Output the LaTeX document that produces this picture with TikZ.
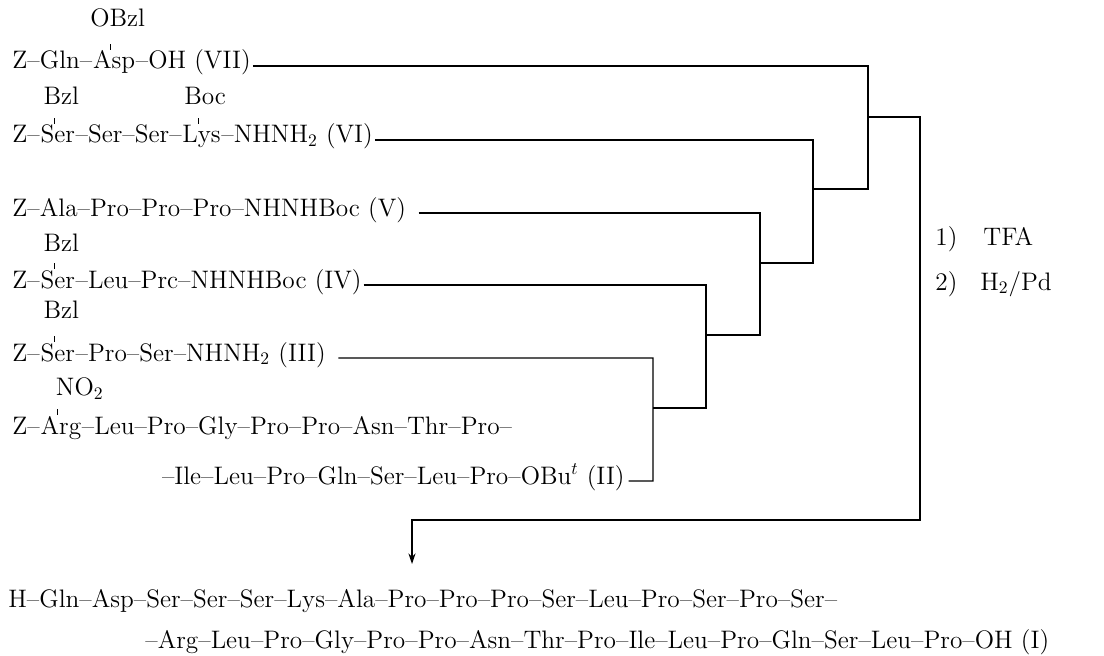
\documentclass[tikz,border=0pt]{standalone}
\usetikzlibrary{arrows.meta,positioning,calc}

\begin{document}
\begin{tikzpicture}[x=0.02cm,y=-0.02cm,
  txt/.style={inner sep=0pt,anchor=base west,font=\fontsize{14.4}{17}\selectfont},
  prot/.style={inner sep=0pt,anchor=base,font=\fontsize{14.4}{17}\selectfont},
  bond/.style={line width=0.7pt},
  tick/.style={line width=0.6pt}]
  \useasboundingbox (0,0) rectangle (1104,655);
  % starting peptides
  \node[txt] (z7) at (12,69) {Z--Gln--};
  \node[txt] (asp7) at (z7.base east) {Asp};
  \node[txt] (vii) at (asp7.base east) {--OH (VII)};
  \node[prot] (obzl7) at ([xshift=2pt,yshift=24pt]asp7.base) {OBzl};
  \draw[tick] ([xshift=-2pt,yshift=11pt]asp7.base) -- ([xshift=-2pt,yshift=14.5pt]asp7.base);

  \node[txt] (z6) at (12,143) {Z--};
  \node[txt] (ser6) at (z6.base east) {Ser};
  \node[txt] (m6) at (ser6.base east) {--Ser--Ser--};
  \node[txt] (lys6) at (m6.base east) {Lys};
  \node[txt] (vi) at (lys6.base east) {--NHNH$_2$ (VI)};
  \node[prot] (bzl6) at ([xshift=2pt,yshift=22pt]ser6.base) {Bzl};
  \node[prot] (boc6) at ([xshift=2pt,yshift=22pt]lys6.base) {Boc};
  \draw[tick] ([xshift=-2pt,yshift=11pt]ser6.base) -- ([xshift=-2pt,yshift=14.5pt]ser6.base);
  \draw[tick] ([xshift=-2pt,yshift=11pt]lys6.base) -- ([xshift=-2pt,yshift=14.5pt]lys6.base);

  \node[txt] (v) at (12,216) {Z--Ala--Pro--Pro--Pro--NHNHBoc (V)};

  \node[txt] (z4) at (12,288) {Z--};
  \node[txt] (ser4) at (z4.base east) {Ser};
  \node[txt] (iv) at (ser4.base east) {--Leu--Prc--NHNHBoc (IV)};
  \node[prot] (bzl4) at ([xshift=2pt,yshift=21pt]ser4.base) {Bzl};
  \draw[tick] ([xshift=-2pt,yshift=11pt]ser4.base) -- ([xshift=-2pt,yshift=14.5pt]ser4.base);

  \node[txt] (z3) at (12,361) {Z--};
  \node[txt] (ser3) at (z3.base east) {Ser};
  \node[txt] (iii) at (ser3.base east) {--Pro--Ser--NHNH$_2$ (III)};
  \node[prot] (bzl3) at ([xshift=2pt,yshift=24pt]ser3.base) {Bzl};
  \draw[tick] ([xshift=-2pt,yshift=11pt]ser3.base) -- ([xshift=-2pt,yshift=14.5pt]ser3.base);

  \node[txt] (z2) at (12,434) {Z--};
  \node[txt] (arg2) at (z2.base east) {Arg};
  \node[txt] (ii) at (arg2.base east) {--Leu--Pro--Gly--Pro--Pro--Asn--Thr--Pro--};
  \node[txt] (no2) at ([xshift=-3pt,yshift=22pt]arg2.base) {NO$_2$};
  \draw[tick] ([xshift=-2pt,yshift=11pt]arg2.base) -- ([xshift=-2pt,yshift=14.5pt]arg2.base);
  \node[txt,anchor=base east] (iib) at (625,484) {--Ile--Leu--Pro--Gln--Ser--Leu--Pro--OBu$^t$ (II)};

  % product
  \node[txt] (prod) at (8,607) {H--Gln--Asp--Ser--Ser--Ser--Lys--Ala--Pro--Pro--Pro--Ser--Leu--Pro--Ser--Pro--Ser--};
  \node[txt] (prodb) at (145,648) {--Arg--Leu--Pro--Gly--Pro--Pro--Asn--Thr--Pro--Ile--Leu--Pro--Gln--Ser--Leu--Pro--OH (I)};

  % conditions
  \node[txt] (st1) at (935,245) {1)};
  \node[txt] (tfa) at (983,245) {TFA};
  \node[txt] (st2) at (935,290) {2)};
  \node[txt] (hpd) at (980,290) {H$_2$/Pd};

  % coupling scheme
  \coordinate (ja) at (868,189);
  \coordinate (jb) at (813,263);
  \coordinate (jc) at (760,335);
  \coordinate (jd) at (706,408);
  \coordinate (je) at (653,481);
  \coordinate (fa) at (868,117);
  \coordinate (jf) at (920,520);
  \coordinate (turn) at (412,520);
  \coordinate (tip) at (412,564);
  \draw[bond] ([xshift=1pt,yshift=1.7pt]vii.base east) -| (ja) -- (jb |- ja);
  \draw[bond] ([xshift=1pt,yshift=1.7pt]vi.base east) -| (jb) -- (jc |- jb);
  \draw[bond] ([xshift=7pt,yshift=1.7pt]v.base east) -| (jc) -- (jd |- jc);
  \draw[bond] ([xshift=1pt,yshift=1.7pt]iv.base east) -| (jd) -- (je |- jd);
  \draw[bond] ([xshift=7pt,yshift=1.7pt]iii.base east) -| (je) -- ([xshift=2pt,yshift=1.7pt]iib.base east);
  \draw[bond,-{Stealth[length=6pt,width=4pt]}] (fa) -| (jf) -- (turn) -- (tip);
\end{tikzpicture}
\end{document}
